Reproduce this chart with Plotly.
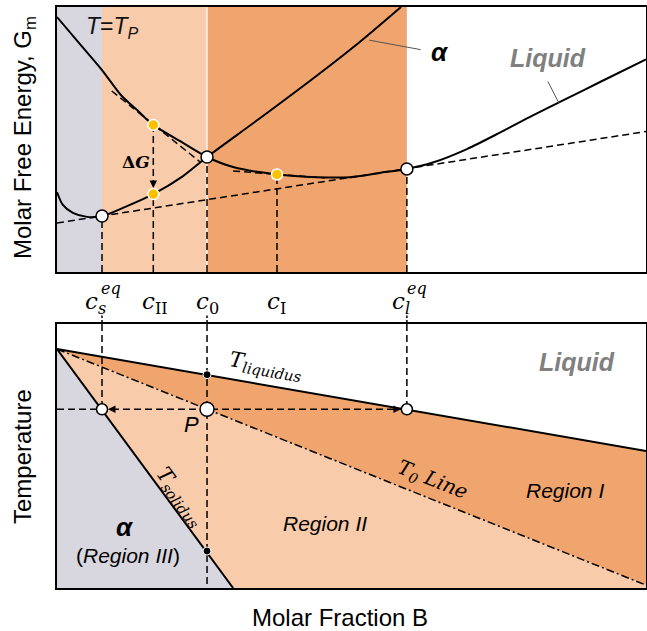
import plotly.graph_objects as go

# ---------------- data ----------------
# characteristic compositions (molar fraction B, schematic 0-1)
c_s_eq = 0.0764
c_II = 0.1635
c_0 = 0.2547
c_I = 0.3735
c_l_eq = 0.594

# top panel: molar free energy curves at T = T_P (arbitrary units)
alpha_x = [0.0, 0.010, 0.027, 0.051, 0.0764, 0.115, 0.1635, 0.214, 0.2547, 0.345, 0.447, 0.514, 0.584]
alpha_G = [30.2, 25.3, 22.3, 20.8, 21.1, 24.5, 29.4, 36.2, 43.4, 58.1, 75.1, 86.8, 100.0]
liquid_x = [0.0, 0.039, 0.0764, 0.110, 0.136, 0.1635, 0.214, 0.2547, 0.299, 0.3735, 0.441,
            0.4975, 0.548, 0.594, 0.638, 0.696, 0.752, 0.808, 0.866, 0.922, 1.0]
liquid_G = [96.2, 86.0, 76.2, 66.4, 61.1, 55.5, 48.7, 43.4, 39.6, 36.8, 35.8,
            35.8, 37.4, 38.9, 41.3, 46.4, 52.6, 59.1, 65.5, 71.7, 80.2]
common_tangent_x = [0.0, 1.0]
common_tangent_G = [18.5, 53.0]
tangent_II_x = [0.093, 0.243]
tangent_II_G = [68.3, 41.5]
tangent_I_x = [0.299, 0.455]
tangent_I_G = [38.1, 35.5]
G_s_eq = 21.1        # alpha at c_s^eq
G_l_eq = 38.9        # liquid at c_l^eq
G_0 = 43.4           # alpha = liquid at c_0
G_II_liq = 55.5      # liquid at c_II
G_II_alpha = 29.4    # alpha at c_II
G_I_liq = 36.8       # liquid at c_I

# bottom panel: phase diagram (temperature, arbitrary units)
liquidus_x = [0.0, 1.0]
liquidus_T = [90.5, 51.9]
solidus_x = [0.0, 0.299]
solidus_T = [90.5, 0.0]
t0_x = [0.0, 1.0]
t0_T = [90.5, 1.1]
T_P = 67.7
T_liq_c0 = 80.8
T_sol_c0 = 14.0

# ---------------- layout helpers ----------------
W, H = 647, 631
XD = [57 / W, 646 / W]
TOP_D = [1 - 272 / H, 1 - 7 / H]
BOT_D = [1 - 588 / H, 1 - 324 / H]
MID_D = [1 - 324 / H, 1 - 300 / H]

GRAY = "#D8D7E0"
LIGHT = "#F8CBAB"
ORANGE = "#F0A56E"
YELLOW = "#FFC000"
DASH = "7px,4px"

fig = go.Figure()


def line(x, y, xa="x", ya="y", color="black", width=2, dash=None, shape="linear"):
    fig.add_trace(go.Scatter(x=x, y=y, xaxis=xa, yaxis=ya, mode="lines",
                             line=dict(color=color, width=width, dash=dash, shape=shape,
                                       smoothing=0.8 if shape == "spline" else None),
                             hoverinfo="skip", showlegend=False))


def poly(x, y, color, xa="x", ya="y"):
    fig.add_trace(go.Scatter(x=x, y=y, xaxis=xa, yaxis=ya, mode="lines", fill="toself",
                             fillcolor=color, line=dict(width=0, color=color),
                             hoverinfo="skip", showlegend=False))


def pts(x, y, fill, size, edge, ew=1.5, xa="x", ya="y"):
    fig.add_trace(go.Scatter(x=x, y=y, xaxis=xa, yaxis=ya, mode="markers",
                             marker=dict(color=fill, size=size, line=dict(color=edge, width=ew)),
                             hoverinfo="skip", showlegend=False))


# ---------------- top panel ----------------
Gmin, Gmax = 0, 100
poly([0, c_s_eq, c_s_eq, 0], [Gmin, Gmin, Gmax, Gmax], GRAY)
poly([c_s_eq, c_0, c_0, c_s_eq], [Gmin, Gmin, Gmax, Gmax], LIGHT)
poly([c_0, c_l_eq, c_l_eq, c_0], [Gmin, Gmin, Gmax, Gmax], ORANGE)
line([c_0, c_0], [Gmin, Gmax], color="white", width=1.2)

line(common_tangent_x, common_tangent_G, width=1.5, dash=DASH)
line(tangent_II_x, tangent_II_G, width=1.5, dash=DASH)
line(tangent_I_x, tangent_I_G, width=1.5, dash=DASH)
for cx, g in [(c_s_eq, G_s_eq), (c_II, G_II_alpha), (c_0, G_0), (c_I, G_I_liq), (c_l_eq, G_l_eq)]:
    line([cx, cx], [Gmin, g], width=1.5, dash=DASH)
line([c_II, c_II], [G_II_liq, G_II_alpha + 4], width=1.5, dash=DASH)

line(alpha_x, alpha_G, width=2, shape="spline")
line(liquid_x, liquid_G, width=2, shape="spline")

pts([c_II, c_II, c_I], [G_II_liq, G_II_alpha, G_I_liq], YELLOW, 11, "white", 1.5)
pts([c_s_eq, c_0, c_l_eq], [G_s_eq, G_0, G_l_eq], "white", 12, "black", 1.5)

# ---------------- bottom panel ----------------
poly([solidus_x[0], solidus_x[1], 0], [solidus_T[0], solidus_T[1], 0], GRAY, "x2", "y2")
poly([t0_x[0], t0_x[1], 1, solidus_x[1]], [t0_T[0], t0_T[1], 0, solidus_T[1]], LIGHT, "x2", "y2")
poly([liquidus_x[0], liquidus_x[1], t0_x[1]], [liquidus_T[0], liquidus_T[1], t0_T[1]], ORANGE, "x2", "y2")

line(liquidus_x, liquidus_T, "x2", "y2", width=2)
line(solidus_x, solidus_T, "x2", "y2", width=2)
line(t0_x, t0_T, "x2", "y2", width=1.5, dash="8px,3px,2px,3px")

line([0, c_l_eq], [T_P, T_P], "x2", "y2", width=1.5, dash=DASH)
line([c_s_eq, c_s_eq], [100, T_P], "x2", "y2", width=1.5, dash=DASH)
line([c_0, c_0], [100, 0], "x2", "y2", width=1.5, dash=DASH)
line([c_l_eq, c_l_eq], [100, T_P], "x2", "y2", width=1.5, dash=DASH)

pts([c_0, c_0], [T_liq_c0, T_sol_c0], "black", 8, "white", 1, "x2", "y2")
pts([c_s_eq, c_l_eq], [T_P, T_P], "white", 11, "black", 1.5, "x2", "y2")
pts([c_0], [T_P], "white", 14, "black", 1.5, "x2", "y2")

# connectors between panels
for cx in [c_s_eq, c_0, c_l_eq]:
    line([cx, cx], [0, 0.35], "x3", "y3", width=1.5, dash="4px,2px")

# ---------------- annotations ----------------
ann = []


def text(t, x, y, xref, yref, size, family="Arial", color="black", angle=0):
    ann.append(dict(text=t, x=x, y=y, xref=xref, yref=yref, showarrow=False,
                    xanchor="center", yanchor="middle", textangle=angle,
                    font=dict(family=family, size=size, color=color)))


def arrow(x, y, ax, ay, xref, yref, head=2, color="black", width=1.5, standoff=0, absolute=False):
    d = dict(text="", x=x, y=y, xref=xref, yref=yref, ax=ax, ay=ay, showarrow=True,
             arrowhead=head, arrowsize=1, arrowwidth=width, arrowcolor=color, standoff=standoff)
    if absolute:
        d.update(axref=xref, ayref=yref)
    ann.append(d)


# top panel texts
text("<i>T</i>=<i>T<sub>P</sub></i>", 0.095, 92.1, "x", "y", 23, color="#111")
text("<b>Δ<i>G</i></b>", 0.134, 41.5, "x", "y", 17, family="DejaVu Serif")
text("<b><i>α</i></b>", 0.650, 83.0, "x", "y", 26)
text("<b><i>Liquid</i></b>", 0.834, 80.8, "x", "y", 25, color="#808080")
arrow(0.530, 87.5, 0.620, 83.8, "x", "y", head=0, color="#555", width=1, absolute=True)
arrow(0.852, 63.8, 0.832, 72.5, "x", "y", head=0, color="#555", width=1, absolute=True)
arrow(c_II, G_II_alpha, 0, -12, "x", "y", head=2, width=1.5, standoff=6)

# composition labels between panels
ymid = 1 - 303 / H
ysup = 1 - 288 / H
text("<i>c<sub>s</sub></i>", 0.066, ymid, "x", "paper", 23, family="DejaVu Serif")
text("<i>eq</i>", 0.0925, ysup, "x", "paper", 16, family="DejaVu Serif")
text("<i>c</i><sub>II</sub>", 0.167, ymid, "x", "paper", 23, family="DejaVu Serif")
text("<i>c</i><sub>0</sub>", 0.2547, ymid, "x", "paper", 23, family="DejaVu Serif")
text("<i>c</i><sub>I</sub>", 0.3727, ymid, "x", "paper", 23, family="DejaVu Serif")
text("<i>c<sub>l</sub></i>", 0.584, ymid, "x", "paper", 23, family="DejaVu Serif")
text("<i>eq</i>", 0.611, ysup, "x", "paper", 16, family="DejaVu Serif")

# bottom panel texts
text("<b><i>Liquid</i></b>", 0.883, 85.6, "x2", "y2", 25, color="#808080")
text("<i>Region I</i>", 0.862, 37.1, "x2", "y2", 21)
text("<i>Region II</i>", 0.455, 24.6, "x2", "y2", 21)
text("<b><i>α</i></b>", 0.115, 23.1, "x2", "y2", 26)
text("(<i>Region III</i>)", 0.121, 12.5, "x2", "y2", 21)
text("<i>P</i>", 0.229, 62.1, "x2", "y2", 22)
text("<i>T<sub>liquidus</sub></i>", 0.355, 84.1, "x2", "y2", 21, family="DejaVu Serif", angle=9.7)
text("<i>T<sub>solidus</sub></i>", 0.209, 34.5, "x2", "y2", 21, family="DejaVu Serif", angle=53.7)
text("<i>T<sub>0</sub> Line</i>", 0.637, 40.9, "x2", "y2", 20, family="DejaVu Serif", angle=21.8)
text("<i>T<sub>P</sub></i>", -0.0204, 66.7, "x2", "y2", 22)
arrow(c_s_eq, T_P, 14, 0, "x2", "y2", head=2, width=1.5, standoff=6)
arrow(c_l_eq, T_P, -14, 0, "x2", "y2", head=2, width=1.5, standoff=6)

# axis titles
text("Molar Free Energy, G<sub>m</sub>", 24 / W, 1 - 138 / H, "paper", "paper", 24, angle=-90)
text("Temperature", 23 / W, 1 - 457 / H, "paper", "paper", 24, angle=-90)
text("Molar Fraction B", 340 / W, 1 - 617 / H, "paper", "paper", 24)

frame = dict(showline=True, mirror=True, linecolor="black", linewidth=2, showgrid=False,
             zeroline=False, showticklabels=False, ticks="", fixedrange=True)
hidden = dict(visible=False, fixedrange=True)

fig.update_layout(
    width=W, height=H, margin=dict(l=0, r=0, t=0, b=0),
    paper_bgcolor="white", plot_bgcolor="rgba(0,0,0,0)",
    showlegend=False, annotations=ann,
    xaxis=dict(domain=XD, range=[0, 1], anchor="y", **frame),
    yaxis=dict(domain=TOP_D, range=[Gmin, Gmax], anchor="x", **frame),
    xaxis2=dict(domain=XD, range=[0, 1], anchor="y2", **frame),
    yaxis2=dict(domain=BOT_D, range=[0, 100], anchor="x2", **frame),
    xaxis3=dict(domain=XD, range=[0, 1], anchor="y3", **hidden),
    yaxis3=dict(domain=MID_D, range=[0, 1], anchor="x3", **hidden),
)

fig.write_html("out.html")
